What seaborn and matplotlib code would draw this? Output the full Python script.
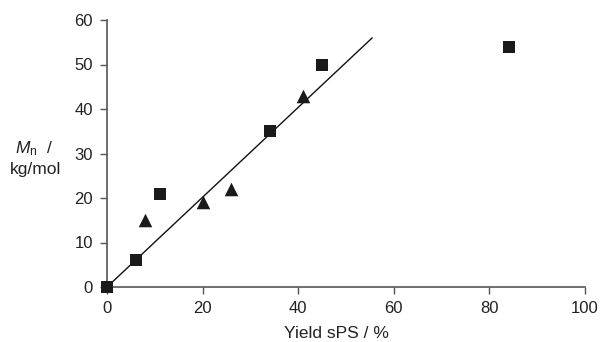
import matplotlib
matplotlib.use("Agg")
import matplotlib.pyplot as plt
import seaborn as sns
import pandas as pd

# data
sq_x = [0, 6, 11, 34, 45, 84]
sq_y = [0, 6, 21, 35, 50, 54]
tri_x = [8, 20, 26, 41]
tri_y = [15, 19, 22, 43]
line_x = [0, 55.5]
line_y = [0, 56]
x_ticks = [0, 20, 40, 60, 80, 100]
y_ticks = [0, 10, 20, 30, 40, 50, 60]

sns.set_theme(style="ticks")
plt.rcParams['font.family'] = ['Liberation Sans', 'DejaVu Sans']
plt.rcParams['mathtext.fontset'] = 'custom'
plt.rcParams['mathtext.it'] = 'Liberation Sans:italic'
plt.rcParams['mathtext.rm'] = 'Liberation Sans'

fig = plt.figure(figsize=(6.02, 3.42), dpi=100)
ax = fig.add_axes([107/602, 55/342, (585-107)/602, (287-20)/342])

mark_col = "#1a1a1a"
sns.lineplot(x=line_x, y=line_y, ax=ax, color="#111111", linewidth=1.0)
sns.scatterplot(x=sq_x, y=sq_y, ax=ax, marker='s', s=80, color=mark_col,
                edgecolor=mark_col, linewidth=0, clip_on=False, zorder=5)
sns.scatterplot(x=tri_x, y=tri_y, ax=ax, marker='^', s=95, color=mark_col,
                edgecolor=mark_col, linewidth=0, clip_on=False, zorder=5)

ax.set_xlim(0, 100)
ax.set_ylim(0, 60)
ax.set_xticks(x_ticks)
ax.set_yticks(y_ticks)
sns.despine(ax=ax)
for s in ['left', 'bottom']:
    ax.spines[s].set_color('#555555')
    ax.spines[s].set_linewidth(1.2)
ax.tick_params(axis='both', colors='#555555', labelcolor='#222222',
               labelsize=12, length=5, width=1.0, direction='out')
ax.tick_params(axis='y', pad=5)
ax.tick_params(axis='x', pad=5)
ax.set_xlabel("")
ax.set_ylabel("")

fig.text(34.5/602, 1 - 149/342, "$M$$_\\mathrm{n}$  /", ha='center', va='center',
         fontsize=12.5, color='#222222')
fig.text(36/602, 1 - 170/342, "kg/mol", ha='center', va='center',
         fontsize=12.5, color='#222222')
fig.text(336/602, 4/342, "Yield sPS / %", ha='center', va='baseline',
         fontsize=12.5, color='#222222')

fig.savefig("out.png", dpi=100)
